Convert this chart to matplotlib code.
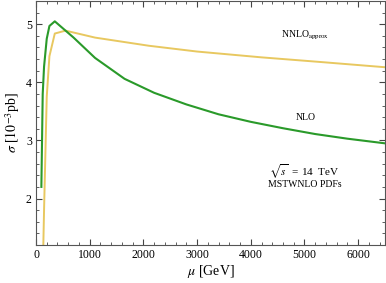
import numpy as np
import matplotlib.pyplot as plt
from matplotlib.ticker import MultipleLocator

# scale mu (GeV) and cross sections (10^-3 pb)
mu_nlo = [100, 125, 150, 200, 250, 350, 500, 700, 1100, 1650, 2200, 2800,
          3400, 4000, 4600, 5200, 5800, 6500]
sigma_nlo = [2.2, 3.8, 4.27, 4.75, 4.97, 5.05, 4.93, 4.77, 4.42, 4.06, 3.82,
             3.62, 3.45, 3.32, 3.21, 3.11, 3.03, 2.95]

mu_nnlo = [125, 150, 200, 250, 350, 550, 1100, 2100, 3000, 4200, 5300, 6500]
sigma_nnlo = [0.7, 1.8, 3.75, 4.45, 4.84, 4.89, 4.77, 4.63, 4.53, 4.43,
              4.35, 4.26]

plt.rcParams['font.family'] = ['Liberation Serif', 'DejaVu Serif']
plt.rcParams['mathtext.fontset'] = 'stix'

fig = plt.figure(figsize=(3.86, 2.83), dpi=100)
ax = fig.add_axes([36 / 386, 38 / 283, 349 / 386, 244 / 283])

ax.plot(mu_nnlo, sigma_nnlo, color='#e8c860', lw=1.4)
ax.plot(mu_nlo, sigma_nlo, color='#2a9a2a', lw=1.5)

ax.set_xlim(0, 6500)
ax.set_ylim(1.2, 5.4)
ax.xaxis.set_major_locator(MultipleLocator(1000))
ax.xaxis.set_minor_locator(MultipleLocator(200))
ax.yaxis.set_major_locator(MultipleLocator(1))
ax.yaxis.set_minor_locator(MultipleLocator(0.2))
ax.tick_params(which='both', direction='in', top=True, right=True,
               labelsize=8.5, color='#444444', pad=3)
ax.tick_params(which='major', length=4)
ax.tick_params(which='minor', length=2)
for s in ax.spines.values():
    s.set_color('#555555')

ax.set_xlabel(r'$\mu$ [GeV]', fontsize=10, labelpad=1)
ax.set_ylabel(r'$\sigma$ [$10^{-3}$pb]', fontsize=10, labelpad=3)

ax.text(5010, 4.81, r'NNLO$_{\rm approx}$', fontsize=7, ha='center', va='center')
ax.text(5030, 3.40, 'NLO', fontsize=7, ha='center', va='center')
ax.text(5000, 2.46, r'$\sqrt{s}$  = 14  TeV', fontsize=8, ha='center', va='center')
ax.text(5010, 2.24, 'MSTWNLO PDFs', fontsize=7, ha='center', va='center')

fig.savefig('out.png', dpi=100)
